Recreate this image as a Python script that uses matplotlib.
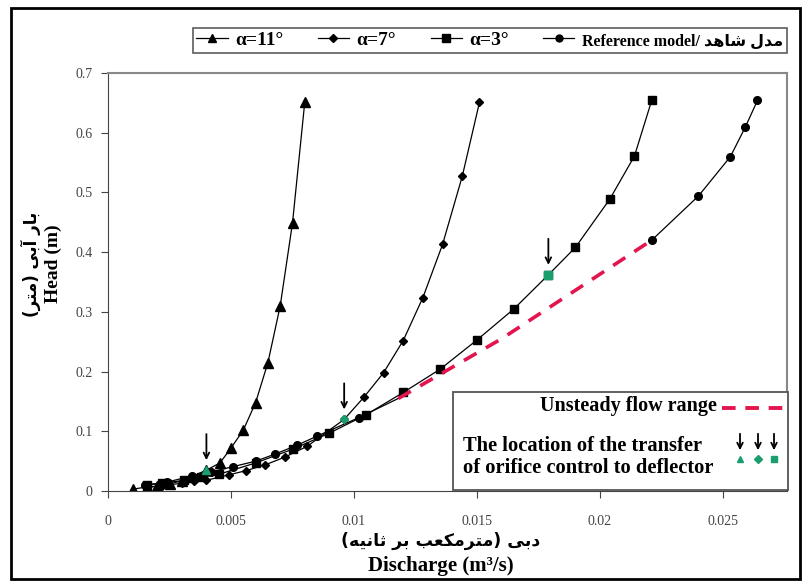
import matplotlib
matplotlib.use("Agg")
import matplotlib.pyplot as plt
from matplotlib.lines import Line2D
from matplotlib.patches import Rectangle, FancyArrowPatch

plt.rcParams['font.family'] = ['Liberation Serif', 'DejaVu Sans']

# alpha = 11 deg (triangles)
q11 = [0.0010, 0.0016, 0.0020, 0.0025, 0.0030, 0.0034, 0.0040, 0.00455, 0.0050, 0.0055, 0.0060, 0.0065, 0.0070, 0.0075, 0.0080]
h11 = [0.003, 0.007, 0.008, 0.012, 0.017, 0.024, 0.035, 0.047, 0.072, 0.102, 0.148, 0.215, 0.310, 0.449, 0.652]
# alpha = 7 deg (diamonds)
q7 = [0.0016, 0.0022, 0.0030, 0.0035, 0.0040, 0.0049, 0.0056, 0.0064, 0.0072, 0.0081, 0.0096, 0.0104, 0.0112, 0.0120, 0.0128, 0.0136, 0.0144, 0.0151]
h7 = [0.006, 0.009, 0.013, 0.016, 0.018, 0.027, 0.034, 0.044, 0.057, 0.075, 0.120, 0.157, 0.198, 0.252, 0.324, 0.413, 0.527, 0.651]
# alpha = 3 deg (squares)
q3 = [0.0016, 0.0022, 0.0031, 0.0038, 0.0045, 0.0060, 0.0075, 0.0090, 0.0105, 0.0120, 0.0135, 0.0150, 0.0165, 0.0179, 0.0190, 0.0204, 0.0214, 0.0221]
h3 = [0.010, 0.013, 0.018, 0.023, 0.028, 0.047, 0.070, 0.097, 0.128, 0.165, 0.204, 0.253, 0.305, 0.362, 0.408, 0.489, 0.561, 0.654]
# reference model (circles)
qref = [0.0015, 0.0024, 0.0034, 0.0042, 0.0051, 0.0060, 0.0068, 0.0077, 0.0085, 0.0102]
href = [0.010, 0.015, 0.025, 0.032, 0.041, 0.050, 0.062, 0.077, 0.092, 0.123]
qref_hi = [0.0221, 0.0240, 0.0253, 0.0259, 0.0264]
href_hi = [0.420, 0.494, 0.560, 0.609, 0.654]
# unsteady flow range (dashed)
q_uns = [0.0118, 0.0160, 0.0221]
h_uns = [0.155, 0.255, 0.420]
# transfer points (orifice control -> deflector)
q_tr = [0.0040, 0.0096, 0.0179]
h_tr = [0.035, 0.120, 0.362]
m_tr = ['^', 'D', 's']

green = '#1b9e6e'
red = '#e3154f'

fig = plt.figure(figsize=(8.09, 5.87), dpi=100)
ax = fig.add_axes([0.1335, 0.1635, 0.8393, 0.7121])

ax.plot(q11, h11, color='black', lw=0.9, marker='^', ms=6.5)
ax.plot(q7, h7, color='black', lw=0.9, marker='D', ms=4.5)
ax.plot(q3, h3, color='black', lw=0.9, marker='s', ms=6)
ax.plot(qref + [q_uns[0]], href + [h_uns[0]], color='black', lw=0.9, marker='o', ms=5.5, markevery=list(range(len(qref))))
ax.plot(qref_hi, href_hi, color='black', lw=0.9, marker='o', ms=5.5)
ax.plot(q_uns, h_uns, color=red, lw=2.6, ls=(0, (4, 3)))

for q, h, m in zip(q_tr, h_tr, m_tr):
    ax.plot(q, h, marker=m, color=green, ms=6 if m != 'D' else 4.5, ls='none', zorder=5)
    ax.annotate('', xy=(q, h + 0.012), xytext=(q, h + 0.065),
                arrowprops=dict(arrowstyle='->', color='black', lw=1.3))

ax.set_xlim(0, 0.0276)
ax.set_ylim(0, 0.7)
ax.set_xticks([0, 0.005, 0.01, 0.015, 0.02, 0.025])
ax.set_xticklabels(['0', '0.005', '0.01', '0.015', '0.02', '0.025'])
ax.set_yticks([0, 0.1, 0.2, 0.3, 0.4, 0.5, 0.6, 0.7])
ax.set_yticklabels(['0', '0.1', '0.2', '0.3', '0.4', '0.5', '0.6', '0.7'])
ax.tick_params(direction='out', length=5, labelsize=10, labelcolor='#444444', color='#444444')
ax.tick_params(axis='x', pad=12)
ax.tick_params(axis='y', pad=6)
for s in ['top', 'right']:
    ax.spines[s].set_color('#888888')
    ax.spines[s].set_linewidth(1.5)
for s in ['left', 'bottom']:
    ax.spines[s].set_color('#444444')

# Persian labels written in presentation forms, visual order
fa_y = '(\uFEAE\uFE98\uFEE3) \uFEF0\uFE91\uFE81 \uFEAD\uFE8E\uFE91'
fa_x = '(\uFEEA\uFEF4\uFEE7\uFE8E\uFE9B \uFEAE\uFE91 \uFE90\uFECC\uFB91\uFEE3\uFEAE\uFE98\uFEE3) \uFEF0\uFE91\uFEA9'
fa_ref = '\uFEAA\uFEEB\uFE8E\uFEB7 \uFEDD\uFEAA\uFEE3'

fig.text(0.038, 0.55, fa_y, rotation=90, ha='center', va='center', fontsize=12,
         fontweight='bold', family=['DejaVu Sans'])
fig.text(0.066, 0.55, 'Head (m)', rotation=90, ha='center', va='center', fontsize=14, fontweight='bold')
fig.text(0.545, 0.079, fa_x, ha='center', va='center', fontsize=12.5, fontweight='bold', family=['DejaVu Sans'])
fig.text(0.545, 0.036, 'Discharge (m\u00b3/s)', ha='center', va='center', fontsize=15, fontweight='bold')

# top legend
handles = [Line2D([], [], color='black', lw=0.9, marker='^', ms=6),
           Line2D([], [], color='black', lw=0.9, marker='D', ms=4.5),
           Line2D([], [], color='black', lw=0.9, marker='s', ms=5.5),
           Line2D([], [], color='black', lw=0.9, marker='o', ms=5)]
labels = ['\u03b1=11\u00b0', '\u03b1=7\u00b0', '\u03b1=3\u00b0', 'Reference model/ ' + fa_ref]
leg = fig.legend(handles, labels, loc='lower left', bbox_to_anchor=(0.226, 0.893, 0.759, 0.046),
                 mode='expand', ncol=4, frameon=True, fancybox=False, handlelength=1.6,
                 handletextpad=0.4, columnspacing=0.6, borderpad=0.2,
                 prop={'family': ['Liberation Serif', 'DejaVu Sans'], 'weight': 'bold', 'size': 14})
leg.get_frame().set_edgecolor('#333333')
leg.get_frame().set_linewidth(1.2)
for t in leg.get_texts()[3:]:
    t.set_fontsize(11.5)

# inner legend box
box_l, box_b, box_w, box_h = 453 / 809, 1 - 490 / 587, 335 / 809, 98 / 587
fig.patches.append(Rectangle((box_l, box_b), box_w, box_h, transform=fig.transFigure,
                             fill=True, facecolor='white', edgecolor='#555555', lw=1.3, zorder=3))
fig.text(717 / 809, 1 - 406 / 587, 'Unsteady flow range', ha='right', va='center',
         fontsize=14.5, fontweight='bold', zorder=4)
fig.lines.append(Line2D([722 / 809, 786 / 809], [1 - 408 / 587, 1 - 408 / 587], transform=fig.transFigure,
                        color=red, lw=2.8, ls=(0, (3.5, 2.5)), zorder=4))
fig.text(463 / 809, 1 - 457 / 587, 'The location of the transfer\nof orifice control to deflector',
         ha='left', va='center', fontsize=14.8, fontweight='bold', linespacing=1.15, zorder=4)
for xp, m in zip([740, 758, 774], m_tr):
    xf = xp / 809
    fig.patches.append(FancyArrowPatch((xf, 1 - 431 / 587), (xf, 1 - 453 / 587),
                       transform=fig.transFigure, arrowstyle='->', mutation_scale=10,
                       color='black', lw=1.3, zorder=4))
    fig.lines.append(Line2D([xf], [1 - 459 / 587], transform=fig.transFigure, marker=m,
                            color=green, ms=5 if m != 'D' else 4, ls='none', zorder=4))

# outer frame
fig.patches.append(Rectangle((0.013, 0.013), 0.976, 0.974, transform=fig.transFigure,
                             fill=False, edgecolor='black', lw=2))

fig.savefig('out.png', dpi=100)
